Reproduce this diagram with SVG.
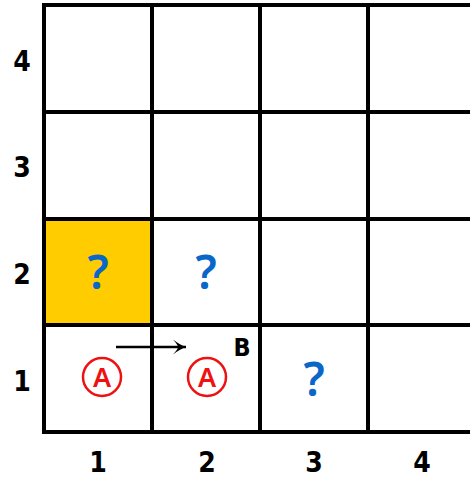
<svg xmlns="http://www.w3.org/2000/svg" width="470" height="479" viewBox="0 0 470 479">
<defs>
<style>
.grid{stroke:#000;stroke-width:4;fill:none;stroke-linecap:square}
.axis{font-family:"DejaVu Sans Condensed","Liberation Sans",sans-serif;font-weight:bold;font-size:28px;fill:#000;text-anchor:middle}
.q{font-family:"Noto Sans","DejaVu Sans",sans-serif;font-weight:600;font-size:46px;fill:#0a66c8;text-anchor:middle}
.a{font-family:"Noto Sans","DejaVu Sans",sans-serif;font-weight:600;font-size:27px;fill:#ee1111;text-anchor:middle}
.ring{fill:none;stroke:#ee1111;stroke-width:2.5}
</style>
<marker id="arr" markerWidth="16" markerHeight="18" refX="14" refY="9" orient="auto" markerUnits="userSpaceOnUse">
<path d="M1,1.5 Q8,7 14,9 Q8,11 1,16.5 Q6,11 6,9 Q6,7 1,1.5 Z" fill="#000"/>
</marker>
</defs>
<rect width="470" height="479" fill="#fff"/>
<g id="cell-yellow"><rect x="44" y="219" width="108" height="106" fill="#ffcc00"/></g>
<g id="grid">
<path class="grid" d="M44,5 V432 M152,5 V432 M260,5 V432 M368,5 V432 M44,5 H472 M44,112 H472 M44,219 H472 M44,325 H472 M44,432 H472"/>
</g>
<g id="y-labels">
<text class="axis" x="22" y="71">4</text>
<text class="axis" x="22" y="177">3</text>
<text class="axis" x="22" y="284">2</text>
<text class="axis" x="22" y="391">1</text>
</g>
<g id="x-labels">
<text class="axis" x="98" y="472">1</text>
<text class="axis" x="207" y="472">2</text>
<text class="axis" x="314" y="472">3</text>
<text class="axis" x="422" y="472">4</text>
</g>
<g id="q1"><text class="q" x="98" y="289">?</text></g>
<g id="q2"><text class="q" x="206" y="289">?</text></g>
<g id="q3"><text class="q" x="314" y="396">?</text></g>
<g id="a1"><circle class="ring" cx="102" cy="377" r="19"/><text class="a" x="102" y="386.5">A</text></g>
<g id="a2"><circle class="ring" cx="207" cy="377" r="19"/><text class="a" x="207" y="386.5">A</text></g>
<g id="connectors">
<line x1="116" y1="347" x2="186" y2="347" stroke="#000" stroke-width="2.3" marker-end="url(#arr)"/>
</g>
<g id="label-b"><text class="axis" x="242" y="356" style="font-size:25px">B</text></g>
</svg>
